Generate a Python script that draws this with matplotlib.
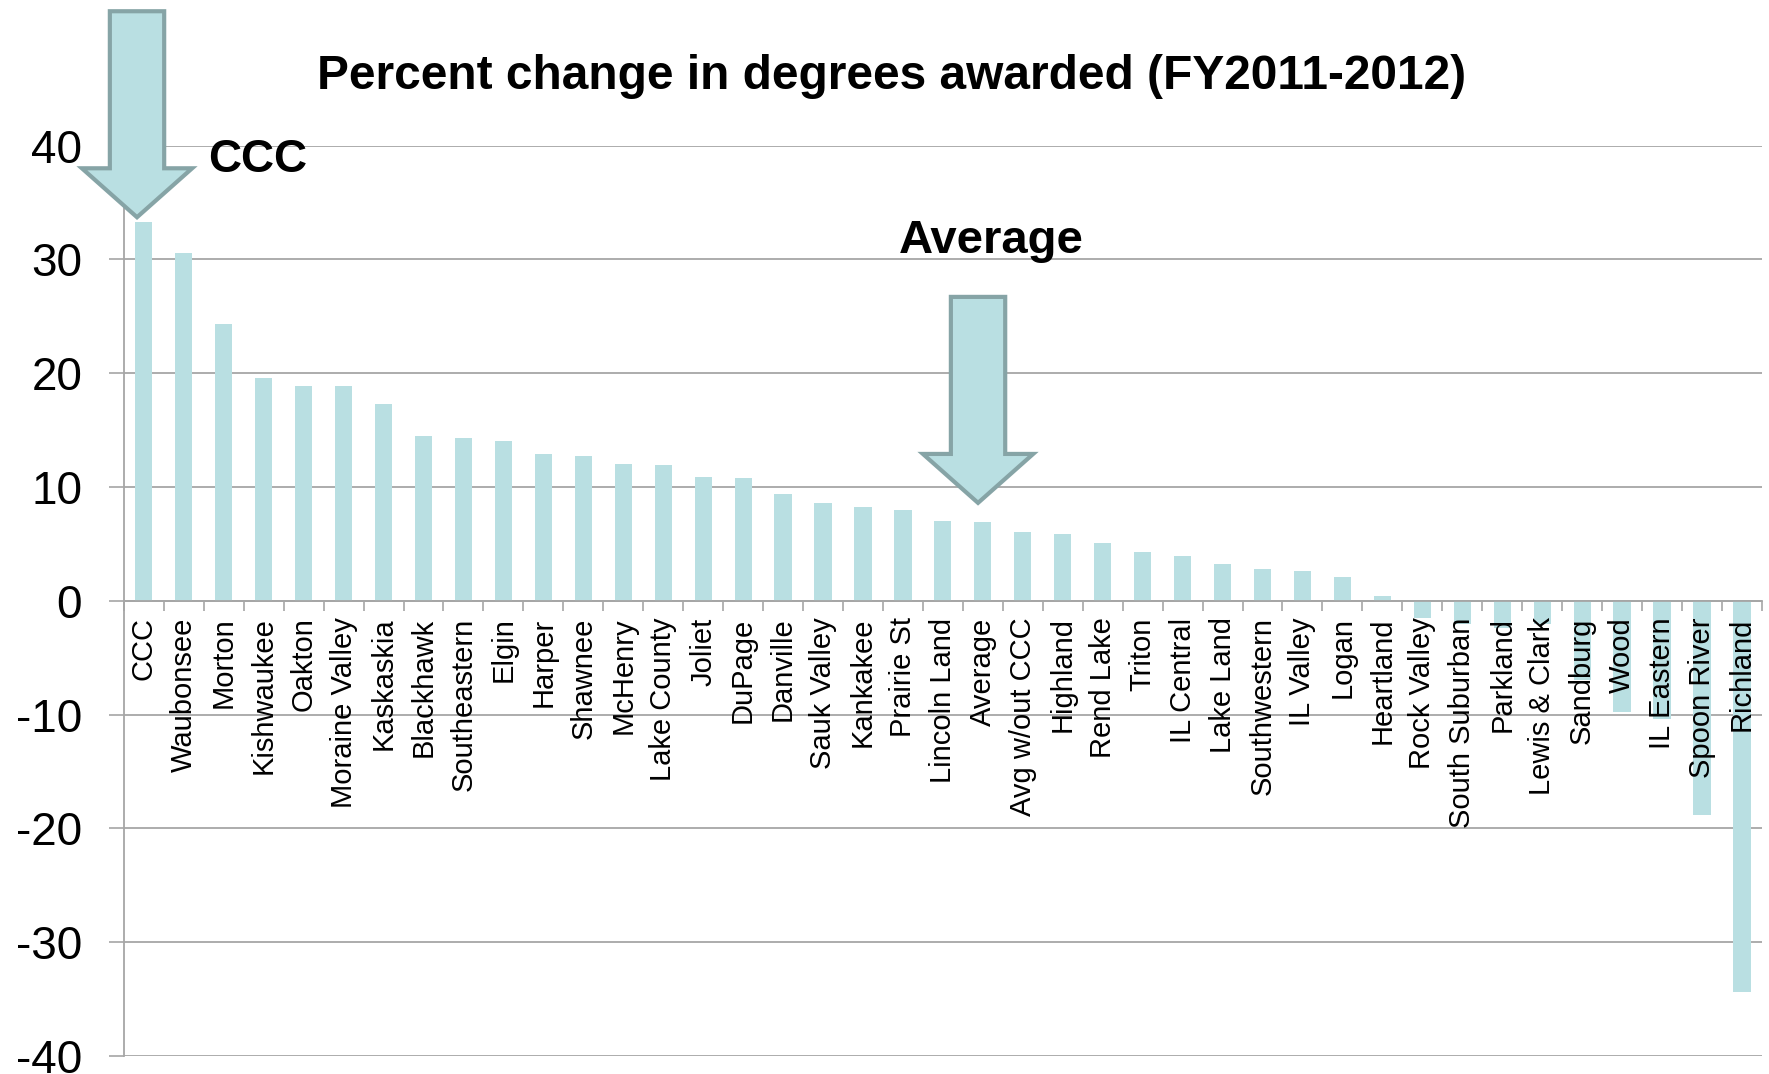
import matplotlib
matplotlib.use('Agg')
import matplotlib.pyplot as plt
from matplotlib.patches import Polygon
import numpy as np

colleges = ['CCC', 'Waubonsee', 'Morton', 'Kishwaukee', 'Oakton', 'Moraine Valley',
            'Kaskaskia', 'Blackhawk', 'Southeastern', 'Elgin', 'Harper', 'Shawnee',
            'McHenry', 'Lake County', 'Joliet', 'DuPage', 'Danville', 'Sauk Valley',
            'Kankakee', 'Prairie St', 'Lincoln Land', 'Average', 'Avg w/out CCC',
            'Highland', 'Rend Lake', 'Triton', 'IL Central', 'Lake Land', 'Southwestern',
            'IL Valley', 'Logan', 'Heartland', 'Rock Valley', 'South Suburban',
            'Parkland', 'Lewis & Clark', 'Sandburg', 'Wood', 'IL Eastern',
            'Spoon River', 'Richland']
change = [33.3, 30.6, 24.3, 19.6, 18.9, 18.9, 17.3, 14.5, 14.3, 14.0, 12.9, 12.7,
          12.0, 11.9, 10.9, 10.8, 9.4, 8.6, 8.2, 8.0, 7.0, 6.9, 6.0, 5.9, 5.1,
          4.3, 3.9, 3.2, 2.8, 2.6, 2.1, 0.4, -1.5, -2.0, -2.4, -2.0, -7.0, -9.8,
          -10.4, -18.8, -34.4]
yticks = [-40, -30, -20, -10, 0, 10, 20, 30, 40]

BAR = '#b9dfe2'
EDGE = '#86a4a6'
GRAY = '#a6a6a6'

plt.rcParams['font.family'] = ['Liberation Sans', 'DejaVu Sans']


def block_arrow(ax, tip_x, tip_y, shaft=0.68, head=1.38, head_len=4.3, length=18.1):
    # big "look here" arrow, drawn in data units, pointing down at tip
    top = tip_y + length
    neck = tip_y + head_len
    pts = [(tip_x - shaft, top), (tip_x + shaft, top), (tip_x + shaft, neck),
           (tip_x + head, neck), (tip_x, tip_y), (tip_x - head, neck),
           (tip_x - shaft, neck)]
    ax.add_patch(Polygon(pts, closed=True, facecolor=BAR, edgecolor=EDGE,
                         linewidth=3, clip_on=False, zorder=5))


fig = plt.figure(figsize=(17.69, 10.74), dpi=100)
ax = fig.add_axes([0.070, 0.0168, 0.926, 0.8477])

x = np.arange(len(colleges))
ax.bar(x, change, width=0.43, color=BAR, zorder=2)

ax.set_xlim(-0.5, len(colleges) - 0.5)
ax.set_ylim(-40, 40)
ax.set_yticks(yticks)
ax.set_yticklabels([str(v) for v in yticks])
ax.tick_params(axis='y', length=11, width=1.2, color=GRAY, pad=19, labelsize=33)

# boundary ticks between categories, labels centred under the bars
ax.set_xticks(np.arange(len(colleges) + 1) - 0.5, minor=True)
ax.set_xticks(x)
ax.set_xticklabels(colleges)
ax.tick_params(axis='x', which='major', length=0, pad=12, labelsize=21,
               labelrotation=90)
ax.tick_params(axis='x', which='minor', length=7, width=1.2, color=GRAY)

# grid behind the bars, category names on top of them
ax.set_axisbelow(True)
ax.xaxis.set_zorder(3)
ax.yaxis.grid(True, color=GRAY, linewidth=1.3)
ax.spines['top'].set_visible(False)
ax.spines['right'].set_visible(False)
ax.spines['left'].set_color(GRAY)
ax.spines['left'].set_linewidth(1.3)
ax.spines['bottom'].set_position(('data', 0))
ax.spines['bottom'].set_color(GRAY)
ax.spines['bottom'].set_linewidth(1.3)

# arrows pointing at CCC and the state average
block_arrow(ax, -0.17, change[0] + 0.4)
block_arrow(ax, 20.88, 8.6)
ax.text(1.6, 38.7, 'CCC', fontsize=33, fontweight='bold', ha='left', va='center')
ax.text(21.2, 31.6, 'Average', fontsize=34, fontweight='bold', ha='center', va='center')

fig.text(0.504, 0.929, 'Percent change in degrees awarded (FY2011-2012)',
         fontsize=34.5, fontweight='bold', ha='center', va='center')

fig.savefig('out.png', dpi=100)
